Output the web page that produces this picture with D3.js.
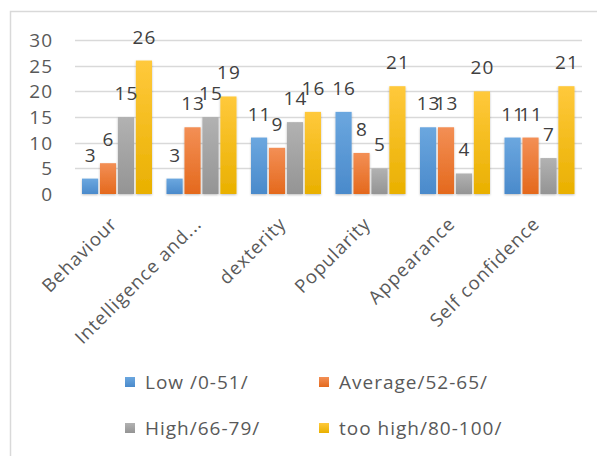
<!DOCTYPE html>
<html>
<head>
<meta charset="utf-8">
<script src="https://cdn.jsdelivr.net/npm/d3@7"></script>
<style>
  html, body { margin: 0; padding: 0; background: #fff; }
  svg { display: block; font-family: "Open Sans", "Lato", sans-serif; }
  svg text { letter-spacing: 1px; }
</style>
</head>
<body>
<svg id="chart" width="597" height="456"></svg>
<script>
// Categories and series
const categories = ["Behaviour", "Intelligence and...", "dexterity", "Popularity", "Appearance", "Self confidence"];
const seriesNames = ["Low /0-51/", "Average/52-65/", "High/66-79/", "too high/80-100/"];
const lowValues      = [3, 3, 11, 16, 13, 11];
const averageValues  = [6, 13, 9, 8, 13, 11];
const highValues     = [15, 15, 14, 5, 4, 7];
const tooHighValues  = [26, 19, 16, 21, 20, 21];
const yTicks = [0, 5, 10, 15, 20, 25, 30];

const seriesValues = [lowValues, averageValues, highValues, tooHighValues];
const colors = [
  ["#6ba7df", "#4a8acb"],
  ["#f38f55", "#e4691d"],
  ["#b2b2b2", "#949494"],
  ["#ffc93c", "#e9b000"]
];

const svg = d3.select("#chart");
const defs = svg.append("defs");

colors.forEach((c, i) => {
  const g = defs.append("linearGradient")
    .attr("id", "grad" + i).attr("x1", 0).attr("y1", 0).attr("x2", 0).attr("y2", 1);
  g.append("stop").attr("offset", "0%").attr("stop-color", c[0]);
  g.append("stop").attr("offset", "100%").attr("stop-color", c[1]);
});

const shadow = defs.append("filter").attr("id", "shadow")
  .attr("x", "-30%").attr("y", "-10%").attr("width", "160%").attr("height", "130%");
shadow.append("feDropShadow").attr("dx", 0).attr("dy", 1).attr("stdDeviation", 1.2)
  .attr("flood-color", "#000").attr("flood-opacity", 0.25);

// Chart frame
svg.append("path")
  .attr("d", "M10.5,456 L10.5,11.5 L597,11.5")
  .attr("fill", "none").attr("stroke", "#d9d9d9").attr("stroke-width", 1.5);

const plotLeft = 75, plotRight = 582, plotTop = 40, plotBottom = 194;

const x0 = d3.scaleBand().domain(categories).range([plotLeft, plotRight]).padding(0);
const x1 = d3.scaleBand().domain(d3.range(4)).range([7, x0.bandwidth() - 7.5]).paddingInner(0.1);
const y = d3.scaleLinear().domain([0, 30]).range([plotBottom, plotTop]);

// Gridlines
svg.append("g").selectAll("line").data(yTicks.filter(t => t > 0)).join("line")
  .attr("x1", plotLeft).attr("x2", plotRight)
  .attr("y1", d => Math.round(y(d)) + 0.5).attr("y2", d => Math.round(y(d)) + 0.5)
  .attr("stroke", "#d9d9d9").attr("stroke-width", 1.5);

// Y axis labels
const yAxis = d3.axisLeft(y).tickValues(yTicks).tickSize(0).tickPadding(0);
const yg = svg.append("g").attr("transform", `translate(53,0)`).call(yAxis);
yg.select(".domain").remove();
yg.selectAll("text").attr("fill", "#595959").style("font-size", "19px")
  .style("font-family", "'Open Sans', sans-serif").attr("dy", "0.35em");

// Bars
const groups = svg.append("g").selectAll("g").data(categories).join("g")
  .attr("transform", d => `translate(${x0(d)},0)`);

groups.selectAll("rect").data((d, ci) => seriesValues.map((s, si) => ({ si, v: s[ci] }))).join("rect")
  .attr("x", d => x1(d.si)).attr("width", x1.bandwidth())
  .attr("y", d => y(d.v)).attr("height", d => y(0) - y(d.v))
  .attr("fill", d => `url(#grad${d.si})`)
  .attr("filter", "url(#shadow)");

// Baseline axis
const xAxis = d3.axisBottom(x0).tickSize(0).tickFormat("");
const xg = svg.append("g").attr("transform", `translate(0,${plotBottom})`).call(xAxis);
xg.select(".domain").attr("stroke", "#d9d9d9").attr("stroke-width", 2)
  .attr("filter", "url(#shadow)");

// Value labels
groups.selectAll("text.val").data((d, ci) => seriesValues.map((s, si) => ({ si, v: s[ci] }))).join("text")
  .attr("class", "val")
  .attr("x", d => x1(d.si) + x1.bandwidth() / 2 + 0.5)
  .attr("y", d => y(d.v) - 17)
  .attr("text-anchor", "middle")
  .attr("fill", "#404040").style("font-size", "19px")
  .text(d => d.v);

// Category labels (rotated)
svg.append("g").selectAll("text").data(categories).join("text")
  .attr("transform", d => `translate(${x0(d) + x0.bandwidth() / 2 + 1},${plotBottom + 31}) rotate(-45)`)
  .attr("text-anchor", "end")
  .attr("fill", "#595959").style("font-size", "18.5px")
  .text(d => d);

// Legend
const legendPos = [[125, 382], [319, 382], [125, 428], [319, 428]];
const legend = svg.append("g").selectAll("g").data(seriesNames).join("g")
  .attr("transform", (d, i) => `translate(${legendPos[i][0]},${legendPos[i][1]})`);
legend.append("rect").attr("x", 0).attr("y", -5).attr("width", 10).attr("height", 10)
  .attr("fill", (d, i) => `url(#grad${i})`);
legend.append("text").attr("x", 20).attr("dy", "0.35em")
  .attr("fill", "#595959").style("font-size", "19px")
  .text(d => d);
</script>
</body>
</html>
